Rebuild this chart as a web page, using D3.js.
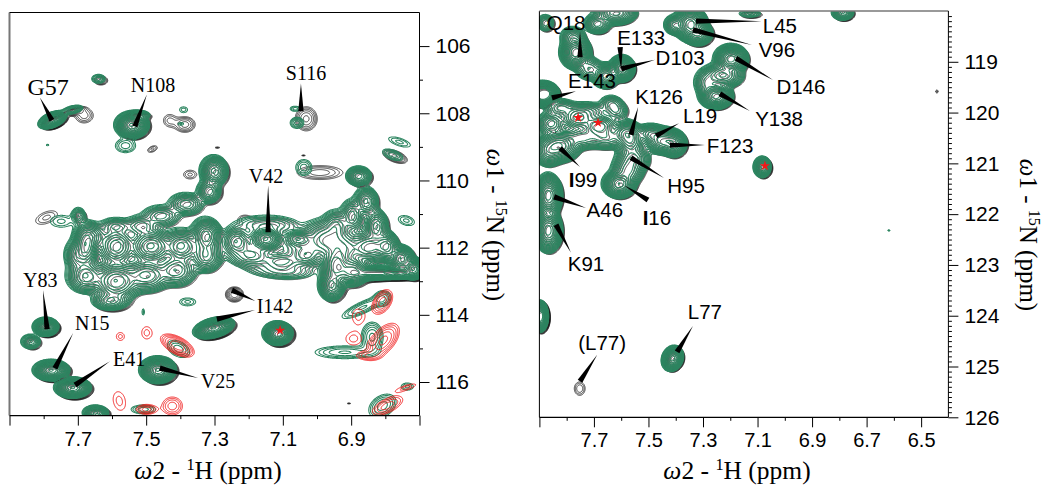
<!DOCTYPE html>
<html><head><meta charset="utf-8">
<script src="https://cdnjs.cloudflare.com/ajax/libs/d3/7.8.5/d3.min.js"></script>
<style>html,body{margin:0;padding:0;background:#fff}svg{display:block}</style></head>
<body><svg id="c" width="1043" height="488"></svg>
<script>
// Peak rows: [1H ppm, 15N ppm, 1H width, 15N width, green height, black height, tilt (dN/dH)]
const leftPeaks = [
[7.776,108.18,.014,.08,110,60,3],[7.717,107.88,.015,.06,8,6,2],[7.69,108.0,.018,.15,0,3,0],
[7.544,108.33,.017,.135,130,100,0],[7.524,108.03,.015,.06,12,10,0],[7.641,106.96,.012,.08,4,4,0],
[7.562,108.95,.02,.14,3,0,0],[7.392,107.88,.012,.09,1.6,0,0],[7.40,108.3,.009,.045,1.5,0,0],
[7.395,108.27,.018,.14,0,4,0],[7.44,108.15,.015,.15,0,2,0],[7.49,109.0,.012,.075,0,2,3],
[7.79,108.93,.006,.02,1.5,0,0],[7.30,108.96,.008,.025,0,1.5,0],
[7.06,108.27,.012,.10,4,0,0],[7.065,107.85,.012,.06,2.2,0,0],[7.04,108.1,.018,.2,0,5,0],
[6.78,109.22,.02,.10,3,5,-3],[6.76,108.84,.027,.10,2,0,-3],[7.04,109.6,.016,.16,3,0,0],
[7.0,109.7,.045,.14,0,3,0],[7.048,109.19,.006,.02,0,1.5,0],[7.38,109.76,.016,.11,0,2,0],
[7.22,111.07,.015,.09,0,1.6,0],[7.25,113.33,.014,.12,0,6,0],[7.8,111.04,.027,.15,0,2,3],
[6.915,116.57,.006,.02,0,1.5,0],[7.75,111.2,.027,.15,2,0,0],[6.74,111.18,.02,.12,2,0,-2],
// left broad envelope
[7.304,109.7,.016,.18,40,30,0],[7.319,110.3,.015,.15,20,18,0],[7.386,110.68,.023,.15,14,10,0],
[7.459,111.03,.026,.15,10,8,0],[7.518,111.33,.023,.15,10,8,0],[7.591,111.33,.023,.12,8,6,0],
[7.664,111.63,.02,.18,18,12,0],[7.70,111.03,.01,.12,8,5,0],[7.68,111.93,.015,.27,45,30,0],
[7.591,111.93,.023,.24,25,18,0],[7.489,111.93,.026,.21,40,25,0],[7.40,111.93,.023,.21,30,20,0],
[7.328,111.63,.018,.21,45,30,0],[7.328,112.2,.02,.21,28,18,0],[7.416,112.65,.026,.21,20,15,0],
[7.503,112.8,.029,.21,30,20,0],[7.591,112.97,.029,.24,50,35,0],[7.68,112.82,.023,.21,28,18,0],
[7.708,112.2,.015,.21,15,10,0],[7.606,113.56,.023,.12,20,20,0],
// right broad envelope
[7.152,111.72,.018,.13,70,45,0],[7.058,111.72,.018,.11,25,15,0],[7.24,111.78,.018,.18,18,12,0],
[7.196,112.23,.029,.15,8,6,0],[7.108,112.37,.029,.12,8,6,0],[7.035,112.2,.02,.15,10,8,0],
[6.947,111.33,.018,.21,15,10,0],[6.90,111.03,.015,.21,18,12,0],[6.88,109.85,.015,.12,25,20,0],
[6.859,110.6,.015,.18,22,15,0],[6.83,111.33,.015,.21,22,16,0],[6.80,111.93,.015,.18,30,22,0],
[6.757,112.3,.015,.15,50,40,0],[6.72,112.6,.012,.12,70,60,0],[6.947,112.52,.018,.24,45,35,0],
[6.90,112.67,.02,.18,40,35,0],[6.96,113.1,.015,.18,40,40,0],[6.845,112.73,.029,.09,30,30,0],
[6.772,112.73,.029,.074,50,50,0],[7.079,112.73,.044,.12,2.5,1.5,0],
[7.15,111.3,.05,.15,6,5,0],[7.2,112.0,.04,.25,6,5,0],[7.05,112.0,.04,.25,6,5,0],[7.12,112.6,.05,.15,4,3,0],
[6.98,111.7,.03,.25,20,14,0],[6.93,112.0,.03,.25,20,14,0],[6.85,111.95,.025,.2,25,18,0],
// isolated peaks
[7.796,114.34,.013,.095,110,80,0],[7.84,114.78,.013,.10,12,8,0],[7.78,115.63,.018,.105,130,120,0],
[7.717,116.15,.018,.105,130,120,0],[7.468,115.62,.018,.135,130,120,0],[7.304,114.37,.02,.10,130,120,2],
[7.117,114.53,.0155,.125,90,100,0],[7.65,116.9,.015,.09,30,30,0],[7.51,116.8,.024,.09,3,0,0],
[7.407,115.0,.022,.16,3,0,-3],[7.38,113.6,.02,.10,2,0,0],[7.51,113.9,.004,.1,1.5,0,0],
[6.868,113.77,.038,.12,3.5,0,4.4],[6.81,113.5,.015,.15,3,0,0],[6.92,115.1,.055,.12,3.5,0,0],
[6.84,114.65,.018,.25,5,0,0],[6.81,116.7,.024,.2,4,0,3],[6.737,116.12,.015,.09,2,0,0],[7.72,117.02,.03,.02,3,0,0]
];
const rightPeaks = [
[7.88,118.22,.015,.08,8,8,0],[7.625,118.02,.03,.09,60,40,0],[7.69,118.24,.02,.08,25,20,0],
[7.77,118.8,.02,.115,120,90,0],[7.78,118.5,.02,.09,15,12,0],[7.6,119.12,.0165,.09,120,90,0],
[7.72,119.12,.022,.1,15,12,0],[7.66,119.26,.018,.09,80,50,0],[7.35,118.24,.022,.12,110,80,0],[7.41,118.26,.015,.08,20,15,0],
[7.32,118.43,.02,.09,50,50,0],[7.13,118.04,.022,.04,5,5,0],[7.20,118.93,.022,.10,110,90,0],
[7.23,119.25,.03,.1,40,30,0],[7.29,119.4,.02,.12,15,12,0],[7.255,119.66,.022,.09,110,80,0],[7.89,119.62,.019,.08,300,250,0],
[7.76,120.09,.029,.10,30,20,0],[7.685,120.25,.029,.10,35,25,0],[7.825,119.89,.026,.08,12,10,0],
[7.64,119.81,.02,.08,8,8,0],[7.62,119.95,.02,.09,8,8,0],[7.73,119.95,.04,.08,10,8,0],
[7.86,120.2,.022,.10,18,14,0],[7.83,120.64,.029,.12,70,45,0],
[7.87,120.74,.022,.12,35,25,0],[7.75,120.48,.033,.10,18,14,0],[7.66,120.48,.033,.10,18,14,0],
[7.585,120.38,.022,.10,35,25,0],[7.57,120.54,.022,.12,35,25,0],[7.495,120.4,.022,.08,25,18,0],
[7.45,120.54,.026,.10,60,40,0],[7.41,120.6,.018,.10,50,45,0],[7.56,120.9,.026,.12,25,18,0],
[7.58,121.13,.024,.12,30,22,0],[7.61,121.39,.022,.10,90,70,0],[7.085,121.06,.0125,.08,40,35,0],
[7.87,121.62,.018,.15,110,90,0],[7.87,122.31,.018,.15,110,90,0],[7.9,124.0,.01,.10,200,200,0],
[7.414,124.83,.0136,.085,110,70,1],[7.76,125.4,.015,.1,0,2.4,0],[6.79,118.02,.016,.06,30,25,0],
[6.45,119.55,.005,.03,0,1.6,0],[6.62,122.31,.004,.016,1.6,0,0]
];
// Red rows: [1H ppm, 15N ppm, 1H width, 15N width, height, tilt]
const leftRedPeaks = [
[7.577,114.63,.013,.13,1.5,0],[7.50,114.52,.016,.2,1.5,0],[7.41,114.9,.026,.15,6,-4],
[7.58,116.55,.02,.3,1.5,-3],[7.5,116.8,.02,.10,3,0],[7.425,116.7,.02,.18,3,0],
[6.81,113.6,.018,.2,4,5],[6.88,114.03,.02,.24,1.5,0],[6.807,114.75,.026,.24,5,6],
[6.895,114.7,.024,.2,1.5,0],[6.855,115.2,.024,.09,2,0],[6.795,116.69,.03,.15,3,4],[6.74,116.15,.03,.075,1.5,3]
];
const leftStars = [[7.108,114.46]];
const rightStars = [[7.758,120.1],[7.685,120.2],[7.073,121.05]];
// Label rows: [text, label 1H, label 15N, thin-end 1H, thin-end 15N, wide-end 1H, wide-end 15N]
const leftLabels = [
["G57",7.787,107.47,7.811,107.53,7.776,108.21],["N108",7.48,107.38,7.498,107.44,7.533,108.39],
["S116",7.032,107.02,7.047,107.11,7.047,107.94],["V42",7.149,110.08,7.143,110.14,7.143,111.54],
["Y83",7.81,113.18,7.802,113.27,7.79,114.43],["N15",7.658,114.46,7.714,114.55,7.767,115.59],
["E41",7.55,115.53,7.606,115.38,7.708,116.09],["V25",7.29,116.18,7.348,115.88,7.46,115.59],
["I142",7.123,113.95,7.181,113.59,7.249,113.27],["",7.123,113.95,7.181,113.86,7.293,114.13]
];
const rightLabels = [
["Q18",7.802,118.37,7.751,118.41,7.751,118.91],["E133",7.527,118.67,7.6,119.16,7.604,118.71],
["D103",7.384,119.06,7.476,118.96,7.6,119.14],["E143",7.707,119.52,7.766,119.58,7.854,119.71],
["K126",7.461,119.83,7.538,119.89,7.564,120.44],["L19",7.311,120.21,7.388,120.21,7.472,120.46],
["F123",7.201,120.8,7.293,120.64,7.421,120.64],["I99",7.74,121.47,7.751,121.07,7.824,120.7],
["H95",7.362,121.58,7.443,121.29,7.564,120.89],["I16",7.469,122.21,7.59,121.43,7.502,121.72],
["A46",7.66,122.06,7.729,121.88,7.846,121.66],["K91",7.729,123.12,7.784,122.76,7.839,122.21],
["L45",7.018,118.43,7.084,118.2,7.326,118.2],["V96",7.029,118.91,7.12,118.67,7.337,118.37],
["D146",6.941,119.63,7.043,119.36,7.179,118.93],["Y138",7.021,120.26,7.128,119.97,7.238,119.63],
["L77",7.293,124.06,7.337,124.2,7.395,124.71],["(L77)",7.67,124.68,7.688,124.77,7.751,125.29]
];
const leftXMajor = [7.9,7.7,7.5,7.3,7.1,6.9,6.7];
const leftXMinor = [7.8,7.6,7.4,7.2,7.0,6.8];
const leftXLabels = [7.7,7.5,7.3,7.1,6.9];
const leftYMajor = [106,108,110,112,114,116];
const leftYMinor = [107,109,111,113,115];
const rightXMajor = [7.9,7.7,7.5,7.3,7.1,6.9,6.7,6.5];
const rightXMinor = [7.8,7.6,7.4,7.2,7.0,6.8,6.6];
const rightXLabels = [7.7,7.5,7.3,7.1,6.9,6.7,6.5];
const rightYMajor = [119,120,121,122,123,124,125,126];
const rightYMinor = d3.range(1181,1260).map(v=>v/10).filter(v=>v%1!==0);

const GREEN="#2c8560", BLACK="#111", RED="#f01818";
const levels = d3.range(17).map(k=>Math.pow(1.35,k));
const svg = d3.select("#c");
const defs = svg.append("defs");

function field(rows, W, H, x0, y0, sx, sy){
  const v = new Float64Array(W*H);
  for(const p of rows){
    const [h,n,sh,sn,a,k] = p;
    if(!a) continue;
    for(let j=0;j<H;j++){
      const N = sy.invert(y0+j);
      for(let i=0;i<W;i++){
        const dh = sx.invert(x0+i)-h;
        const q = dh*dh/(2*sh*sh);
        if(q>12) continue;
        const dn = N-n-k*dh;
        const e = q+dn*dn/(2*sn*sn);
        if(e<12) v[j*W+i]+=a*Math.exp(-e);
      }
    }
  }
  return v;
}

function panel(id,o){
  const sx=d3.scaleLinear().domain(o.xd).range(o.xr);
  const sy=d3.scaleLinear().domain(o.yd).range(o.yr);
  const x0=Math.floor(o.xr[0]),y0=Math.floor(o.yr[0]);
  const W=Math.ceil(o.xr[1])-x0+1,H=Math.ceil(o.yr[1])-y0+1;
  defs.append("clipPath").attr("id",id).append("rect")
    .attr("x",o.xr[0]).attr("y",o.yr[0]).attr("width",o.xr[1]-o.xr[0]).attr("height",o.yr[1]-o.yr[0]);
  const g=svg.append("g");
  const plot=g.append("g").attr("clip-path",`url(#${id})`);
  const gen=d3.contours().size([W,H]).thresholds(levels);
  const path=d3.geoPath();
  function draw(rows,color,sw){
    const v=field(rows,W,H,x0,y0,sx,sy);
    plot.append("g").attr("transform",`translate(${x0},${y0})`)
      .selectAll("path").data(gen(v)).join("path")
      .attr("d",path).attr("fill","none").attr("stroke",color).attr("stroke-width",sw);
  }
  draw(o.peaks.map(p=>[p[0]-o.shift[0],p[1]+o.shift[1],p[2],p[3],p[5],p[6]]),BLACK,.75);
  draw(o.peaks.map(p=>[p[0],p[1],p[2],p[3],p[4],p[6]]),GREEN,1.05);
  if(o.red) draw(o.red,RED,.9);
  plot.selectAll("path.ptr").data(o.labels).join("path").attr("class","ptr")
    .attr("fill","#000").attr("d",d=>{
      const a=[sx(d[3]),sy(d[4])],b=[sx(d[5]),sy(d[6])];
      const dx=b[0]-a[0],dy=b[1]-a[1],L=Math.hypot(dx,dy),nx=-dy/L*2.7,ny=dx/L*2.7;
      return `M${a[0]},${a[1]}L${b[0]+nx},${b[1]+ny}L${b[0]-nx},${b[1]-ny}Z`;
    });
  plot.selectAll("path.star").data(o.stars).join("path").attr("class","star")
    .attr("d",d3.symbol(d3.symbolStar,32)).attr("fill",RED)
    .attr("transform",d=>`translate(${sx(d[0])},${sy(d[1])})`);
  const lab=g.selectAll("text.lab").data(o.labels.filter(d=>d[0])).join("text").attr("class","lab")
    .attr("x",d=>sx(d[1])).attr("y",d=>sy(d[2])).attr("text-anchor","middle")
    .attr("font-family",o.labelFont).attr("font-size",d=>d[0]==="G57"?24:o.labelSize).attr("fill","#000");
  lab.each(function(d){
    const t=d3.select(this);
    if(o.boldI && d[0][0]==="I"){t.append("tspan").attr("font-weight","bold").text("I");t.append("tspan").text(d[0].slice(1));}
    else t.text(d[0]);
  });
  const yA=o.yr[1], xA=o.xr[1];
  const ax=(gen,tr,vals,len,fmt,pad)=>{
    const a=g.append("g").attr("transform",tr).call(gen.tickValues(vals).tickSize(len).tickPadding(pad).tickFormat(fmt));
    a.select(".domain").remove();
    a.selectAll("line").attr("stroke","#000").attr("stroke-width",1);
    a.selectAll("text").attr("font-family","'Liberation Sans',Arial,sans-serif").attr("fill","#000");
    return a;
  };
  ax(d3.axisBottom(sx),`translate(0,${yA})`,o.xMajor,10,d=>o.xLabels.includes(d)?d3.format(".1f")(d):"",6).selectAll("text").attr("font-size",20);
  ax(d3.axisBottom(sx),`translate(0,${yA})`,o.xMinor,3.5,()=>"",2);
  ax(d3.axisRight(sy),`translate(${xA},0)`,o.yMajor,10,d=>d,6).selectAll("text").attr("font-size",21);
  ax(d3.axisRight(sy),`translate(${xA},0)`,o.yMinor,3.5,()=>"",2);
  const ln=(x1,y1,x2,y2,c,w)=>g.append("line").attr("x1",x1).attr("y1",y1).attr("x2",x2).attr("y2",y2).attr("stroke",c).attr("stroke-width",w);
  ln(o.xr[0],o.yr[0],o.xr[0],yA,o.leftC,o.leftW);
  ln(o.xr[0],o.yr[0],xA,o.yr[0],o.topC,o.topW);
  ln(xA,o.yr[0],xA,yA,"#000",1);
  ln(o.xr[0],yA,xA,yA,"#000",1.2);
  const tit=(sel,size,num,iso,el)=>{
    sel.attr("font-family","'Liberation Serif','Times New Roman',serif").attr("font-size",size).attr("text-anchor","middle").attr("fill","#000");
    sel.append("tspan").attr("font-style","italic").text("\u03c9");
    sel.append("tspan").text(num+" - ");
    sel.append("tspan").attr("font-size",size*.64).attr("dy",-9).text(iso);
    sel.append("tspan").attr("dy",9).text(el+" (ppm)");
  };
  tit(g.append("text").attr("x",o.xTitle[0]).attr("y",o.xTitle[1]),25.5,"2","1","H");
  tit(g.append("text").attr("transform",`translate(${o.yTitle[0]},${o.yTitle[1]}) rotate(90)`),25,"1","15","N");
}

panel("pl",{xd:[7.9,6.7],xr:[9.5,419.5],yd:[105,117],yr:[12.5,415.6],peaks:leftPeaks,red:leftRedPeaks,shift:[.007,.05],
  labels:leftLabels,stars:leftStars,labelFont:"'Liberation Serif','Times New Roman',serif",labelSize:20,boldI:false,
  xMajor:leftXMajor,xMinor:leftXMinor,xLabels:leftXLabels,yMajor:leftYMajor,yMinor:leftYMinor,
  leftC:"#777",leftW:2,topC:"#000",topW:1,xTitle:[208,479],yTitle:[487,225]});
panel("pr",{xd:[7.9,6.4],xr:[539.4,948.4],yd:[118,126],yr:[11,417.3],peaks:rightPeaks,red:null,shift:[.006,.025],
  labels:rightLabels,stars:rightStars,labelFont:"'Liberation Sans',Arial,sans-serif",labelSize:20.5,boldI:true,
  xMajor:rightXMajor,xMinor:rightXMinor,xLabels:rightXLabels,yMajor:rightYMajor,yMinor:rightYMinor,
  leftC:"#000",leftW:1,topC:"#777",topW:1.5,xTitle:[737,479],yTitle:[1020,235]});
</script></body></html>
